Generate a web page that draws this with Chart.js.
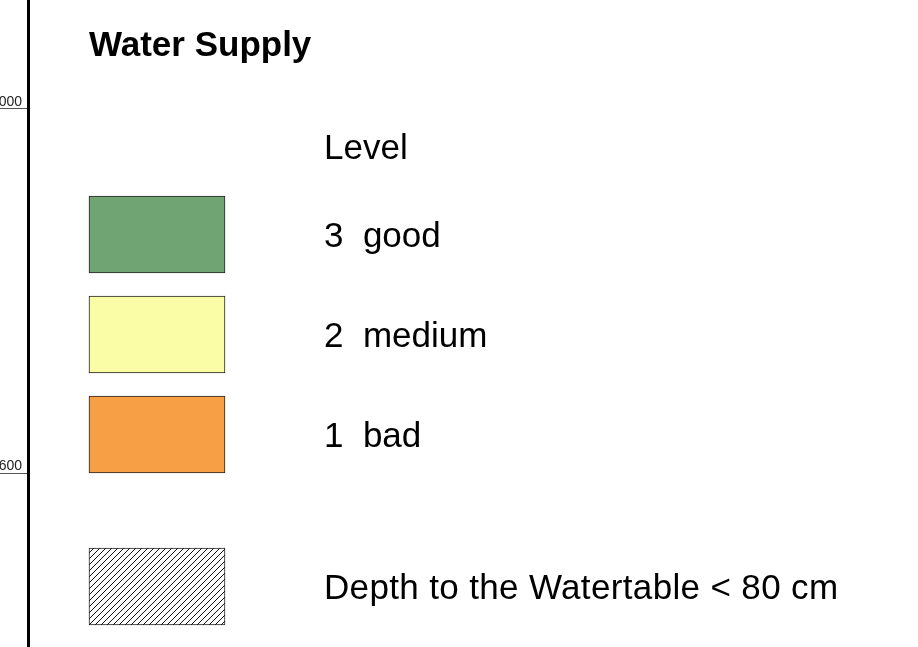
<!DOCTYPE html>
<html>
<head>
<meta charset="utf-8">
<title>Water Supply</title>
<script src="https://cdn.jsdelivr.net/npm/chart.js@4.4.0/dist/chart.umd.min.js"></script>
<style>
  html, body { margin: 0; padding: 0; background: #fff; }
  #wrap { width: 918px; height: 647px; position: relative; }
</style>
</head>
<body>
<div id="wrap"><canvas id="legendChart"></canvas></div>
<script>
// legend content
let title = "Water Supply";
let header = "Level";
let levels = [3, 2, 1];
let levelNames = ["good", "medium", "bad"];
let hatchLabel = "Depth to the Watertable < 80 cm";

// map grid ticks on the left edge (leading digits fall off the page)
let gridTicks = [4600, 5000];

// styles / layout
let fillColors = ["#70a472", "#fbfda6", "#f79f45"];
let rowPos = [1, 2, 3, 4.52];      // row centres on the hidden row axis
let titleRow = -0.905;
let headerRow = 0.115;
let textCol = 1.728;
let fontFamily = '"Liberation Sans", Arial, sans-serif';

// where the two grid ticks sit on the page
let tickTopPx = 109, tickBottomPx = 473, pageH = 647;
let pxPerUnit = (tickBottomPx - tickTopPx) / (gridTicks[1] - gridTicks[0]);
let yMax = gridTicks[1] + tickTopPx / pxPerUnit;
let yMin = gridTicks[0] - (pageH - tickBottomPx) / pxPerUnit;

// hatch pattern for the watertable box
function makeHatch(){
    let c = document.createElement("canvas");
    c.width = 6; c.height = 6;
    let g = c.getContext("2d");
    g.fillStyle = "#fff";
    g.fillRect(0, 0, 6, 6);
    g.strokeStyle = "#111";
    g.lineWidth = 1;
    g.beginPath();
    g.moveTo(-1, 7); g.lineTo(7, -1);
    g.moveTo(-1, 1); g.lineTo(1, -1);
    g.moveTo(5, 7); g.lineTo(7, 5);
    g.stroke();
    return g.createPattern(c, "repeat");
}

let labels = levels.map((l, i) => l + "  " + levelNames[i]).concat([hatchLabel]);
let boxes = rowPos.map(r => ({x: [0, 1], y: r}));

Chart.defaults.font.family = fontFamily;

const legendText = {
    id: "legendText",
    afterDatasetsDraw(chart){
        const {ctx, scales: {x, rows}} = chart;
        ctx.save();
        ctx.fillStyle = "#000";
        ctx.textAlign = "left";
        ctx.textBaseline = "alphabetic";
        ctx.font = "bold 35px " + fontFamily;
        ctx.fillText(title, x.getPixelForValue(0), rows.getPixelForValue(titleRow) + 12);
        ctx.font = "35px " + fontFamily;
        ctx.fillText(header, x.getPixelForValue(textCol), rows.getPixelForValue(headerRow) + 12.5);
        labels.forEach((t, i) => {
            // the long label is set a little looser in the original
            ctx.letterSpacing = i === labels.length - 1 ? "0.35px" : "0px";
            ctx.fillText(t, x.getPixelForValue(textCol), rows.getPixelForValue(rowPos[i]) + 12.5);
        });
        ctx.restore();
    }
};

let ctx = document.getElementById("legendChart").getContext("2d");
let legendChart = new Chart(ctx, {
    type: "bar",
    data: {
        labels: labels,
        datasets: [{
            data: boxes,
            xAxisID: "x",
            yAxisID: "rows",
            backgroundColor: fillColors.concat([makeHatch()]),
            borderColor: "#222",
            borderWidth: 1,
            borderSkipped: false,
            barThickness: 77
        }]
    },
    options: {
        indexAxis: "y",
        responsive: true,
        maintainAspectRatio: false,
        devicePixelRatio: 1,
        animation: false,
        layout: { padding: 0 },
        plugins: {
            legend: { display: false },
            tooltip: { enabled: false }
        },
        scales: {
            x: { type: "linear", display: false, offset: false, min: -0.4485, max: 6.096 },
            rows: {
                axis: "y", type: "linear", display: false, reverse: true,
                offset: false, grid: { offset: false },
                min: -1.345, max: 5.125
            },
            y: {
                type: "linear",
                position: "left",
                offset: false,
                min: yMin,
                max: yMax,
                afterBuildTicks: s => { s.ticks = gridTicks.map(v => ({value: v})); },
                afterFit: s => { s.width = 28; s.paddingTop = 0; s.paddingBottom = 0; },
                ticks: {
                    padding: -22,
                    labelOffset: -7,
                    color: "#222",
                    font: { size: 14 },
                    callback: v => String(v)
                },
                grid: { drawOnChartArea: false, offset: false, tickLength: 28, color: "#555", lineWidth: 1 },
                border: { display: true, color: "#000", width: 3 }
            }
        }
    },
    plugins: [legendText]
});
</script>
</body>
</html>
